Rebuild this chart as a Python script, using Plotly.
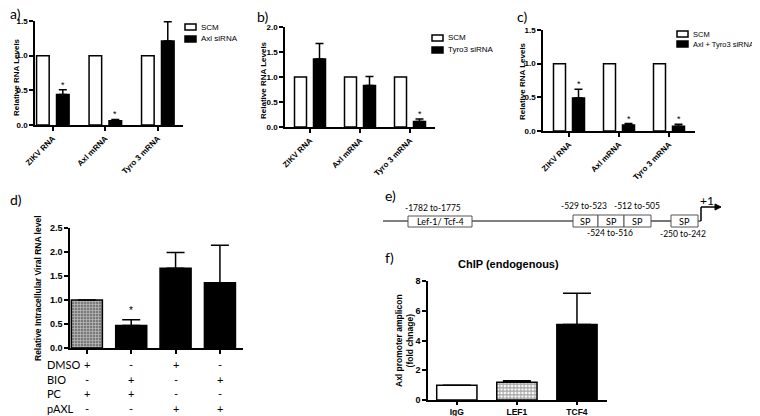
import plotly.graph_objects as go

# the page body adds an 8px margin, so the figure is drawn 8px in from the
# picture's top-left corner; all positions below are in picture pixels
OX, OY = 8, 8
W, H = 760 - OX, 416 - OY


def px(x):
    return (x - OX) / W


def py(y):
    return 1 - (y - OY) / H


# ---- data ----
abc_categories = ["ZIKV RNA", "Axl mRNA", "Tyro 3 mRNA"]

a_scm = [1.0, 1.0, 1.0]
a_sirna = [0.44, 0.06, 1.21]
a_sirna_err = [0.07, 0.02, 0.28]
a_sig = [True, True, False]

b_scm = [1.0, 1.0, 1.0]
b_sirna = [1.36, 0.83, 0.11]
b_sirna_err = [0.31, 0.18, 0.05]
b_sig = [False, False, True]

c_scm = [1.0, 1.0, 1.0]
c_sirna = [0.49, 0.09, 0.07]
c_sirna_err = [0.13, 0.02, 0.03]
c_sig = [True, True, True]

d_groups = ["DMSO+PC", "BIO+PC", "DMSO+pAXL", "BIO+pAXL"]
d_values = [1.0, 0.47, 1.66, 1.36]
d_err = [0.0, 0.12, 0.33, 0.78]
d_sig = [False, True, False, False]
d_rows = ["DMSO", "BIO", "PC", "pAXL"]
d_signs = [["+", "-", "+", "-"],
           ["-", "+", "-", "+"],
           ["+", "+", "-", "-"],
           ["-", "-", "+", "+"]]

f_categories = ["IgG", "LEF1", "TCF4"]
f_values = [1.0, 1.19, 5.07]
f_err = [0.0, 0.1, 2.1]

BOLD = dict(family="Liberation Sans, Arial", color="black", weight="bold")
REG = dict(family="Liberation Sans, Arial", color="black")
CAL = dict(family="Lato, Noto Sans", color="black")

fig = go.Figure()
annotations = []


def note(x, y, t, font, xanchor="center", yanchor="middle", **kw):
    annotations.append(dict(x=px(x), y=py(y), xref="paper", yref="paper", text=t,
                            showarrow=False, xanchor=xanchor, yanchor=yanchor,
                            font=font, **kw))


# ---- panels a, b, c ----
panels = [
    ("x", "y", a_scm, a_sirna, a_sirna_err, a_sig, "Axl siRNA"),
    ("x2", "y2", b_scm, b_sirna, b_sirna_err, b_sig, "Tyro3 siRNA"),
    ("x3", "y3", c_scm, c_sirna, c_sirna_err, c_sig, "Axl + Tyro3 siRNA"),
]
for xa, ya, scm, sirna, err, sig, name in panels:
    fig.add_bar(x=abc_categories, y=scm, xaxis=xa, yaxis=ya, name="SCM",
                offset=-0.31, width=0.24, showlegend=False,
                marker=dict(color="white", line=dict(color="black", width=1.5)))
    fig.add_bar(x=abc_categories, y=sirna, xaxis=xa, yaxis=ya, name=name,
                offset=0.07, width=0.24, showlegend=False,
                marker=dict(color="black", line=dict(color="black", width=1.5)),
                error_y=dict(type="data", symmetric=False, array=err,
                             arrayminus=[0] * len(err), color="black",
                             thickness=1.5, width=4))
    for i, s in enumerate(sig):
        if s:
            annotations.append(dict(x=i + 0.19, y=sirna[i] + err[i], xref=xa, yref=ya,
                                    text="*", showarrow=False, yanchor="bottom",
                                    yshift=-2, font=dict(REG, size=9)))

# ---- panel d ----
fig.add_bar(x=d_groups, y=d_values, xaxis="x4", yaxis="y4", width=0.7,
            showlegend=False,
            marker=dict(color=["#7a7a7a", "black", "black", "black"],
                        line=dict(color="black", width=1.5),
                        pattern=dict(shape=["+", "", "", ""], fgcolor="#111111",
                                     size=3, solidity=0.4)),
            error_y=dict(type="data", symmetric=False, array=d_err,
                         arrayminus=[0] * len(d_err), color="black",
                         thickness=1.5, width=9))
for i, s in enumerate(d_sig):
    if s:
        annotations.append(dict(x=i, y=d_values[i] + d_err[i], xref="x4", yref="y4",
                                text="*", showarrow=False, yanchor="bottom",
                                yshift=2, font=dict(REG, size=10)))
row_y = [364, 379, 393, 408]
for r, label in enumerate(d_rows):
    note(45, row_y[r], label, dict(CAL, size=11), xanchor="left")
    for i, s in enumerate(d_signs[r]):
        annotations.append(dict(x=i, y=py(row_y[r]), xref="x4", yref="paper",
                                text=s, showarrow=False, yanchor="middle",
                                font=dict(CAL, size=11)))

# ---- panel f ----
fig.add_bar(x=f_categories, y=f_values, xaxis="x5", yaxis="y5", width=0.67,
            showlegend=False,
            marker=dict(color=["white", "white", "black"],
                        line=dict(color="black", width=1.5),
                        pattern=dict(shape=["", "+", ""], fgcolor="black",
                                     size=3.5, solidity=0.55)),
            error_y=dict(type="data", symmetric=False, array=f_err,
                         arrayminus=[0] * len(f_err), color="black",
                         thickness=1.5, width=14))

# ---- axes ----
base = dict(showline=True, linecolor="black", linewidth=1.5, ticks="outside",
            ticklen=4, tickwidth=1.5, tickcolor="black", showgrid=False,
            zeroline=False, fixedrange=True, automargin=False)
abc_x = dict(base, type="category", tickangle=-45, tickfont=dict(BOLD, size=8))
fig.update_layout(
    xaxis=dict(abc_x, domain=[px(35), px(183)], range=[-0.34, 2.48], anchor="y"),
    yaxis=dict(base, domain=[py(125), py(21)], range=[0, 1.5], dtick=0.5,
               tickformat=".1f", tickfont=dict(BOLD, size=8), anchor="x"),
    xaxis2=dict(abc_x, domain=[px(285), px(435)], range=[-0.5, 2.5], anchor="y2"),
    yaxis2=dict(base, domain=[py(127), py(27)], range=[0, 2.0], dtick=0.5,
                tickformat=".1f", tickfont=dict(BOLD, size=8), anchor="x2"),
    xaxis3=dict(abc_x, domain=[px(543), px(695)], range=[-0.52, 2.52], anchor="y3"),
    yaxis3=dict(base, domain=[py(131), py(30)], range=[0, 1.5], dtick=0.5,
                tickformat=".1f", tickfont=dict(BOLD, size=8), anchor="x3"),
    xaxis4=dict(base, type="category", domain=[px(70), px(243)], range=[-0.38, 3.52],
                showticklabels=False, anchor="y4"),
    yaxis4=dict(base, domain=[py(348), py(228)], range=[0, 2.5], dtick=0.5,
                tickformat=".1f", tickfont=dict(BOLD, size=9), anchor="x4"),
    xaxis5=dict(base, type="category", domain=[px(428), px(607)], range=[-0.48, 2.5],
                ticklen=3, tickfont=dict(BOLD, size=8.5), anchor="y5"),
    yaxis5=dict(base, domain=[py(400), py(281)], range=[0, 8], dtick=2,
                tickfont=dict(BOLD, size=9), anchor="x5"),
)

# ---- axis titles ----
for x, y, txt, size in [(16, 77, "Relative RNA Levels", 8),
                        (263, 80, "Relative RNA Levels", 8),
                        (522, 81, "Relative RNA Levels", 8),
                        (38, 288, "Relative Intracellular Viral RNA level", 8.5),
                        (404, 340, "Axl promoter amplicon<br>(fold chnage)", 8.5)]:
    note(x, y, txt, dict(BOLD, size=size), textangle=-90)

note(508, 264, "ChIP (endogenous)", dict(BOLD, size=11))

# ---- panel letters ----
for x, y, txt in [(8, 14, "a)"), (255, 16, "b)"), (515, 16, "c)"),
                  (8, 199, "d)"), (383, 196, "e)"), (383, 257, "f)")]:
    note(x, y, txt, dict(CAL, size=14), xanchor="left")

# ---- legends for a, b, c ----
shapes = []
legends = [(185, 27, 39, "Axl siRNA", 8), (432, 38, 50, "Tyro3 siRNA", 8),
           (677, 34, 44, "Axl + Tyro3 siRNA", 7.5)]
for lx, y1, y2, name, fs in legends:
    shapes.append(dict(type="rect", xref="paper", yref="paper",
                       x0=px(lx), x1=px(lx + 11), y0=py(y1 - 3), y1=py(y1 + 3),
                       line=dict(color="black", width=1.5), fillcolor="white"))
    shapes.append(dict(type="rect", xref="paper", yref="paper",
                       x0=px(lx), x1=px(lx + 11), y0=py(y2 - 3), y1=py(y2 + 3),
                       line=dict(color="black", width=1.5), fillcolor="black"))
    for yy, t in [(y1, "SCM"), (y2, name)]:
        note(lx + 14, yy, t, dict(REG, size=fs), xanchor="left")


# ---- panel e: promoter schematic ----
def hline(x0, x1, y, color="black", width=1):
    shapes.append(dict(type="line", xref="paper", yref="paper", x0=px(x0), x1=px(x1),
                       y0=py(y), y1=py(y), line=dict(color=color, width=width)))


def box(x0, x1, y0, y1):
    shapes.append(dict(type="rect", xref="paper", yref="paper", x0=px(x0), x1=px(x1),
                       y0=py(y1), y1=py(y0), line=dict(color="#555555", width=1),
                       fillcolor="white"))


hline(383, 408, 221)
hline(472, 573, 221)
hline(651, 671, 221, "#777777", 2)
hline(698, 701, 221, "#555555", 1.5)
box(408, 472, 216, 227)
for x0, x1 in [(573, 598), (598, 624), (624, 651), (671, 698)]:
    box(x0, x1, 215, 227)
    note((x0 + x1) / 2, 221, "SP", dict(CAL, size=9))
note(440, 221, "Lef-1/ Tcf-4", dict(CAL, size=9))
note(433, 208, "-1782 to-1775", dict(CAL, size=8.5))
note(584, 206, "-529 to-523", dict(CAL, size=8.5))
note(637, 206, "-512 to-505", dict(CAL, size=8.5))
note(610, 233, "-524 to-516", dict(CAL, size=8.5))
note(683, 234, "-250 to-242", dict(CAL, size=8.5))
note(707, 200, "+1", dict(CAL, size=12))
shapes.append(dict(type="line", xref="paper", yref="paper", x0=px(701), x1=px(701),
                   y0=py(221), y1=py(207), line=dict(color="black", width=1.5)))
hline(701, 716, 207, "black", 1.5)
shapes.append(dict(type="path", xref="paper", yref="paper",
                   path=f"M {px(715)},{py(204)} L {px(721)},{py(207)} L {px(715)},{py(210)} Z",
                   fillcolor="black", line=dict(color="black", width=1)))

fig.update_layout(
    width=W, height=H, margin=dict(l=0, r=0, t=0, b=0, autoexpand=False),
    paper_bgcolor="white", plot_bgcolor="white",
    barmode="overlay", annotations=annotations, shapes=shapes,
)

fig.write_html("out.html")
